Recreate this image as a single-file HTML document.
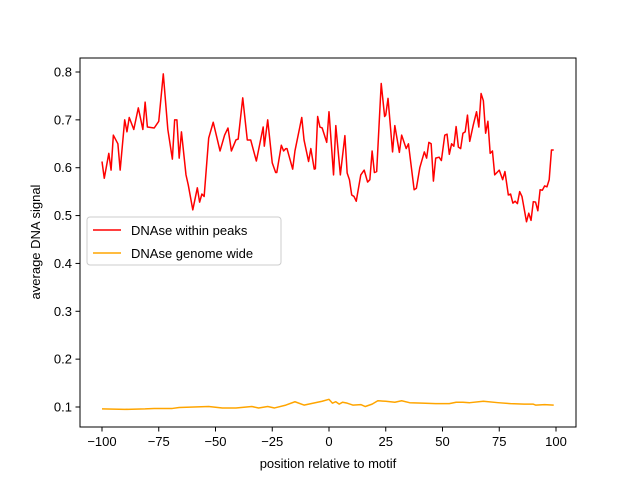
<!DOCTYPE html>
<html><head><meta charset="utf-8"><style>
body{margin:0;background:#fff;}
svg{display:block;font-family:"Liberation Sans","DejaVu Sans",sans-serif;}
</style></head><body>
<svg id="chart" width="640" height="480" viewBox="0 0 640 480" xmlns="http://www.w3.org/2000/svg">
<rect width="640" height="480" fill="#fff"/>
<g id="grid"></g>
<g id="series"></g>
<rect x="80" y="58" width="496" height="369" fill="none" stroke="#000" stroke-width="1"/>
<g id="ticks"></g>
<text x="328" y="468" font-size="13" text-anchor="middle">position relative to motif</text>
<text transform="translate(40,242) rotate(-90)" font-size="13" text-anchor="middle">average DNA signal</text>
<g>
<rect x="87" y="217" width="194" height="48" rx="3" fill="#fff" fill-opacity="0.8" stroke="#ccc"/>
<line x1="93" y1="230" x2="121" y2="230" stroke="#ff0000" stroke-width="1.5"/>
<text x="131" y="235" font-size="13">DNAse within peaks</text>
<line x1="93" y1="253" x2="121" y2="253" stroke="#ffa500" stroke-width="1.5"/>
<text x="131" y="258" font-size="13">DNAse genome wide</text>
</g>
</svg>
<script>
const peaksX=[-100,-99,-97,-96,-95,-93,-92,-90,-89,-88,-86,-84,-82,-81,-80,-77,-75,-73,-71,-69,-68,-67,-66,-65,-63,-62,-60,-58,-57,-56,-55,-53,-51,-48,-46,-44.5,-43,-41,-40,-38,-36,-34.5,-32,-29,-28.5,-27,-25,-23.5,-23,-21,-20,-19,-18.5,-16,-15,-12,-11,-9,-8,-6.5,-6,-5,-4,-3,-1,0,2,3,5,7,8,9,10,11,12,14,15.5,17,18,19,20,21,23,24.5,25,26,28,29,31,32,34,35,37.5,38.5,40,42,43,44,45,46,47,48.5,49.5,51,52,53,54,55,56,57,58,59,60,61,62,63.5,65,66,67,68,69,70,71,72,73,75,76.5,77.5,79,80,81,82,83,84,85,87,88,89,90,91,92,93,94,95,96,97,98,99];
const peaksY=[0.613,0.578,0.63,0.595,0.668,0.65,0.595,0.70,0.675,0.705,0.68,0.725,0.68,0.737,0.685,0.683,0.697,0.796,0.68,0.618,0.70,0.70,0.62,0.675,0.585,0.564,0.512,0.558,0.528,0.545,0.54,0.662,0.695,0.635,0.668,0.683,0.635,0.658,0.66,0.746,0.658,0.658,0.614,0.685,0.645,0.70,0.61,0.59,0.59,0.647,0.635,0.64,0.64,0.597,0.635,0.705,0.658,0.613,0.64,0.597,0.598,0.707,0.685,0.683,0.653,0.717,0.585,0.688,0.585,0.667,0.589,0.575,0.543,0.54,0.53,0.585,0.595,0.57,0.575,0.635,0.59,0.592,0.776,0.707,0.71,0.745,0.633,0.688,0.632,0.668,0.64,0.65,0.554,0.557,0.6,0.633,0.62,0.653,0.65,0.572,0.62,0.622,0.615,0.668,0.67,0.628,0.65,0.645,0.686,0.643,0.64,0.672,0.675,0.71,0.655,0.688,0.717,0.685,0.755,0.74,0.672,0.697,0.63,0.635,0.585,0.595,0.575,0.592,0.543,0.545,0.526,0.53,0.525,0.55,0.54,0.487,0.505,0.49,0.529,0.528,0.51,0.554,0.553,0.562,0.56,0.575,0.637,0.637];
const genomeX=[-100,-90,-81,-77,-69,-66,-53,-47,-41,-34,-31,-27,-24,-19,-15,-11,-3,0,1.5,3,4.5,6,8,10.5,14,16,19,21.5,25,29,32,35.5,41,47,53,56,59,62,68,74.5,80,86,90,91,95,99];
const genomeY=[0.096,0.095,0.096,0.097,0.097,0.099,0.101,0.098,0.098,0.101,0.098,0.101,0.098,0.104,0.111,0.104,0.112,0.116,0.108,0.111,0.106,0.110,0.108,0.104,0.105,0.101,0.106,0.113,0.112,0.110,0.113,0.109,0.108,0.107,0.107,0.110,0.110,0.109,0.112,0.109,0.107,0.106,0.106,0.104,0.105,0.104];
const xTicks=[-100,-75,-50,-25,0,25,50,75,100];
const yTicks=[0.1,0.2,0.3,0.4,0.5,0.6,0.7,0.8];
const NS='http://www.w3.org/2000/svg';
function xs(v){return 102+(v+100)*(556-102)/200;}
function ys(v){return 407-(v-0.1)*(407-72)/0.7;}
const series=document.getElementById('series');
function drawLine(X,Y,color,name){
  const p=document.createElementNS(NS,'polyline');
  p.setAttribute('points',X.map((x,i)=>xs(x).toFixed(2)+','+ys(Y[i]).toFixed(2)).join(' '));
  p.setAttribute('fill','none');p.setAttribute('stroke',color);p.setAttribute('stroke-width','1.5');
  p.setAttribute('stroke-linejoin','round');
  
  
  series.appendChild(p);
}
drawLine(genomeX,genomeY,'#ffa500','genome-wide-line');
drawLine(peaksX,peaksY,'#ff0000','within-peaks-line');
const tg=document.getElementById('ticks');
xTicks.forEach(t=>{
  const l=document.createElementNS(NS,'line');
  l.setAttribute('x1',xs(t));l.setAttribute('x2',xs(t));l.setAttribute('y1',427);l.setAttribute('y2',431.5);l.setAttribute('stroke','#000');
  
  
  tg.appendChild(l);
  const s=document.createElementNS(NS,'text');
  s.setAttribute('x',xs(t));s.setAttribute('y',446);s.setAttribute('font-size','13');s.setAttribute('text-anchor','middle');
  s.textContent=t<0?'\u2212'+(-t):String(t);
  
  
  tg.appendChild(s);
});
yTicks.forEach(t=>{
  const l=document.createElementNS(NS,'line');
  l.setAttribute('x1',75.5);l.setAttribute('x2',80);l.setAttribute('y1',ys(t));l.setAttribute('y2',ys(t));l.setAttribute('stroke','#000');
  
  
  tg.appendChild(l);
  const s=document.createElementNS(NS,'text');
  s.setAttribute('x',72);s.setAttribute('y',ys(t)+4.5);s.setAttribute('font-size','13');s.setAttribute('text-anchor','end');
  s.textContent=t.toFixed(1);
  
  
  tg.appendChild(s);
});
</script>
</body></html>
